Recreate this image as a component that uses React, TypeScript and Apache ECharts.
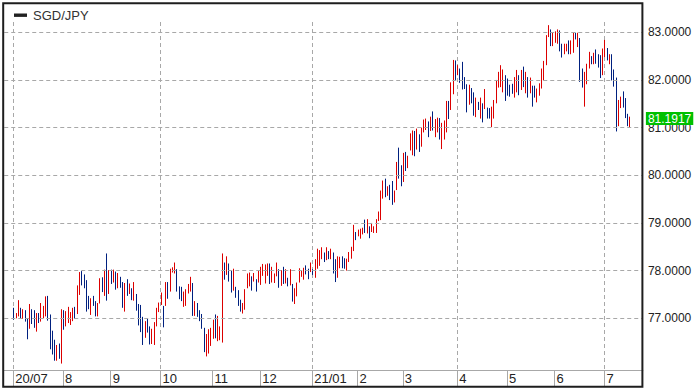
import React, { useEffect, useRef } from 'react';
import * as echarts from 'echarts';

const PAIR = 'SGD/JPY';
const LAST_PRICE = 81.1917;

// Daily high / low (one bar per weekday, 2020-07-01 .. 2021-07-16)
const highs = [
  77.22, 77.11, 77.38, 77.22, 77.19, 77.17, 76.99, 77.30, 77.19, 77.17,
  77.11, 77.11, 77.32, 77.26, 77.46, 77.47, 77.08, 76.74, 76.55, 76.44,
  76.47, 77.19, 77.17, 77.15, 77.24, 77.13, 77.22, 77.24, 77.69, 77.97,
  77.99, 77.92, 77.80, 77.47, 77.42, 77.47, 77.36, 77.32, 77.84, 77.86,
  78.02, 78.36, 78.01, 78.02, 78.02, 77.98, 77.95, 77.87, 77.76, 77.74,
  77.82, 77.73, 77.63, 77.76, 77.51, 77.30, 77.28, 77.03, 76.94, 77.00,
  76.83, 76.78, 76.92, 77.22, 77.33, 77.54, 77.26, 77.76, 77.76, 78.04,
  78.07, 78.17, 78.03, 77.67, 77.66, 77.56, 77.61, 77.72, 77.87, 77.74,
  77.36, 77.32, 77.17, 77.09, 76.80, 76.67, 76.77, 76.80, 76.97, 77.08,
  77.05, 76.83, 78.36, 78.17, 78.30, 78.15, 78.00, 78.04, 77.66, 77.59,
  77.39, 77.32, 77.61, 77.94, 77.96, 77.88, 77.95, 77.82, 78.00, 78.08,
  78.14, 78.13, 78.15, 78.15, 78.08, 77.94, 78.17, 78.03, 78.01, 78.08,
  78.03, 77.85, 78.03, 77.72, 77.63, 77.75, 78.05,
  78.01, 78.06, 78.11, 78.04, 78.17, 78.03, 78.24, 78.46, 78.43, 78.49,
  78.38, 78.49, 78.41, 78.46, 78.38, 78.24, 78.30, 78.29, 78.30, 78.26,
  78.25, 78.39, 78.50, 78.96, 78.81, 78.86, 78.88, 78.90, 79.07, 79.08,
  78.93, 79.00, 78.93, 79.08, 79.24,
  79.68, 79.89, 79.93, 79.77, 79.80, 79.88, 79.68, 80.28, 80.58, 80.21,
  80.47, 80.49, 80.41, 80.88, 80.94, 80.93, 80.98, 80.86, 81.00, 81.17,
  81.19, 81.13, 81.23, 81.34, 81.18, 81.21,
  81.20, 81.10, 81.15, 81.56, 81.56, 81.95, 82.42, 82.41, 82.31, 82.24,
  82.38, 82.06, 81.91, 81.90, 81.83, 81.74, 81.63, 81.54, 81.63, 81.51,
  81.81, 81.42, 81.41, 81.44, 81.58, 82.00, 82.17, 82.31, 82.22, 82.10,
  82.03, 81.90, 81.92, 82.06, 82.21, 82.10, 82.21, 82.28, 82.17, 82.06,
  82.05, 81.88, 81.88, 81.82, 81.93, 82.24, 82.40, 82.94, 83.15,
  83.06, 82.99, 83.02, 83.06, 83.04, 82.76, 82.76, 82.76, 82.83, 82.83,
  82.99, 82.99, 82.99, 82.88, 82.24, 82.17, 82.34, 82.59, 82.50, 82.57,
  82.64, 82.54, 82.52, 82.66, 82.84, 82.67, 82.54, 82.54, 82.22, 82.05,
  81.58, 81.65, 81.76, 81.62, 81.29, 81.23,
];

const lows = [
  76.97, 77.00, 77.04, 77.00, 76.99, 76.93, 76.56, 76.78, 76.88, 76.80,
  76.72, 76.90, 76.93, 77.00, 77.04, 76.95, 76.35, 76.24, 76.11, 76.11,
  76.15, 76.05, 76.76, 76.83, 76.90, 76.86, 76.94, 76.99, 77.09, 77.49,
  77.69, 77.63, 77.14, 77.19, 77.07, 77.26, 77.04, 77.04, 77.31, 77.55,
  77.47, 77.37, 77.51, 77.72, 77.75, 77.60, 77.63, 77.64, 77.22, 77.14,
  77.47, 77.51, 77.38, 77.37, 77.16, 76.85, 76.71, 76.44, 76.59, 76.70,
  76.45, 76.46, 76.44, 76.83, 77.13, 77.28, 76.81, 77.26, 77.41, 77.56,
  77.96, 77.94, 77.56, 77.40, 77.36, 77.24, 77.26, 77.52, 77.56, 77.05,
  77.05, 77.03, 76.94, 76.78, 76.29, 76.20, 76.26, 76.42, 76.57, 76.58,
  76.52, 76.54, 76.49, 77.81, 77.91, 77.77, 77.54, 77.58, 77.43, 77.26,
  77.14, 77.10, 77.18, 77.63, 77.67, 77.58, 77.77, 77.56, 77.75, 77.70,
  77.89, 77.73, 77.89, 77.72, 77.75, 77.74, 77.88, 77.64, 77.68, 77.72,
  77.73, 77.67, 77.69, 77.35, 77.30, 77.46, 77.75,
  77.87, 77.81, 77.92, 77.82, 77.97, 77.91, 77.85, 78.04, 78.10, 78.24,
  78.18, 78.22, 78.24, 78.24, 77.94, 77.76, 77.85, 78.05, 78.05, 78.04,
  78.00, 78.18, 78.25, 78.41, 78.64, 78.72, 78.67, 78.76, 78.79, 78.78,
  78.68, 78.81, 78.79, 78.79, 79.04,
  79.06, 79.51, 79.54, 79.57, 79.48, 79.38, 79.43, 79.69, 79.93, 79.77,
  79.86, 80.09, 80.15, 80.52, 80.42, 80.40, 80.54, 80.49, 80.60, 80.90,
  80.95, 80.80, 80.93, 80.94, 80.80, 80.90,
  80.75, 80.55, 80.75, 80.90, 81.18, 81.37, 81.70, 82.00, 82.10, 81.94,
  81.80, 81.81, 81.32, 81.48, 81.51, 81.25, 81.22, 81.37, 81.19, 81.11,
  81.39, 81.19, 81.19, 81.01, 81.19, 81.51, 81.84, 81.85, 81.74, 81.56,
  81.67, 81.65, 81.71, 81.63, 81.74, 81.68, 81.79, 81.85, 81.72, 81.63,
  81.72, 81.44, 81.63, 81.53, 81.67, 81.82, 81.99, 82.31, 82.90,
  82.71, 82.71, 82.78, 82.76, 82.60, 82.47, 82.54, 82.60, 82.54, 82.54,
  82.57, 82.85, 82.69, 81.96, 81.84, 81.44, 81.91, 82.24, 82.33, 82.33,
  82.34, 82.26, 82.04, 82.10, 82.48, 82.41, 82.33, 81.99, 81.86, 80.92,
  81.03, 81.41, 81.42, 81.20, 81.03, 81.01,
];

// R = up day (red), B = down day (blue)
const upDown =
  'BRRBRBBRBB' + 'RBRRRBBBBR' + 'BRBRRRRBRR' + 'BBBBRBBRRB' + 'RBRBRBRBBR' +
  'BRBRBBBBRB' + 'BRRRRRBRBR' + 'RRBBBRRRRB' + 'RBBBBRRRRB' + 'RRRBRBBRBB' +
  'BRRRRBRBRR' + 'RRRBRRRBRB' + 'RBRBRRR' +
  'RRBBRBRRRR' + 'BRBRBBRRBB' + 'RRRRBRRRBR' + 'BRRRR' +
  'RRBRBBRRBB' + 'RBRRRBRBRR' + 'RBRBRR' +
  'BRRRBRRBRB' + 'BBBRBBRBRB' + 'RBBRRRRRRB' + 'BBBRRBRBRB' + 'RBBRRRRRR' +
  'BRRRBBRRBR' + 'RBRBBRRRBR' + 'BBBRRBRBBB' + 'RRBBBR';

// Month tick labels and the bar index at which each month starts
const monthLabels = ['20/07', '8', '9', '10', '11', '12', '21/01', '2', '3', '4', '5', '6', '7'];
const monthStartBar = [0, 22, 43, 65, 88, 109, 132, 152, 172, 196, 218, 239, 261];
const gridMonthLabels = ['20/07', '10', '21/01', '4', '7'];

const yTicks = [77, 78, 79, 80, 81, 82, 83];
const Y_MIN = 75.915;
const Y_MAX = 83.216;
const LEAD = 4;
const TRAIL = 6;

const UP = '#dc0000';
const DOWN = '#00207f';
const GRID = '#a8a8a8';
const FONT = '"Liberation Sans", Arial, sans-serif';

export default function App() {
  const ref = useRef<HTMLDivElement>(null);

  useEffect(() => {
    if (!ref.current) return;
    const chart = echarts.init(ref.current, null, { renderer: 'svg' });
    const n = highs.length;
    const total = LEAD + n + TRAIL;
    const cats = Array.from({ length: total }, (_, i) => String(i));
    const labelAt = new Map<number, string>();
    monthStartBar.forEach((b, j) => labelAt.set(b + LEAD, monthLabels[j]));
    const quarterSet = new Set<number>();
    monthStartBar.forEach((b, j) => {
      if (gridMonthLabels.includes(monthLabels[j])) quarterSet.add(b + LEAD);
    });
    const data = highs.map((h, i) => [i + LEAD, h, lows[i], upDown[i] === 'R' ? 1 : 0]);

    const option: any = {
      animation: false,
      backgroundColor: '#ffffff',
      grid: {
        left: 4.24,
        right: 57.1,
        top: 22,
        bottom: 21,
        containLabel: false,
        outerBoundsMode: 'none',
      },
      xAxis: {
        type: 'category',
        data: cats,
        boundaryGap: false,
        axisLine: { show: true, lineStyle: { color: GRID, width: 1 } },
        axisTick: {
          show: true,
          interval: (i: number) => labelAt.has(i),
          length: 17,
          lineStyle: { color: GRID, width: 1 },
        },
        axisLabel: {
          show: true,
          interval: (i: number) => labelAt.has(i),
          formatter: (v: string) => labelAt.get(Number(v)) ?? '',
          align: 'left',
          verticalAlign: 'top',
          margin: 1,
          padding: [0, 0, 0, 2],
          fontSize: 13,
          lineHeight: 14,
          color: '#222',
          fontFamily: FONT,
        },
        splitLine: {
          show: true,
          interval: (i: number) => quarterSet.has(i),
          lineStyle: { type: [4, 3], color: GRID, width: 1 },
        },
      },
      yAxis: {
        type: 'value',
        position: 'right',
        min: Y_MIN,
        max: Y_MAX,
        splitNumber: 7,
        axisLine: { show: false },
        axisTick: { show: false },
        splitLine: { show: false },
        axisLabel: {
          customValues: yTicks,
          margin: 5,
          fontSize: 12,
          color: '#222',
          fontFamily: FONT,
          formatter: (v: number) =>
            yTicks.some((t) => Math.abs(t - v) < 1e-6) ? v.toFixed(4) : '',
        },
      },
      series: [
        {
          type: 'custom',
          data,
          encode: { x: 0, y: [1, 2] },
          renderItem: (_params: any, api: any) => {
            const top = api.coord([api.value(0), api.value(1)]);
            const bot = api.coord([api.value(0), api.value(2)]);
            const x = Math.round(top[0]) + 0.5;
            return {
              type: 'line',
              shape: { x1: x, y1: top[1], x2: x, y2: bot[1] },
              style: { stroke: api.value(3) ? UP : DOWN, lineWidth: 1 },
            };
          },
          markLine: {
            silent: true,
            symbol: ['none', 'none'],
            z: 10,
            label: { show: false },
            lineStyle: { type: [4, 3], color: GRID, width: 1 },
            data: [
              ...yTicks.map((v) => ({ yAxis: v })),
              { yAxis: Y_MAX },
              {
                yAxis: LAST_PRICE,
                lineStyle: { color: 'rgba(0,0,0,0)', width: 1, type: 'solid' },
                label: {
                  show: true,
                  position: 'end',
                  distance: 3,
                  formatter: () => LAST_PRICE.toFixed(4),
                  color: '#ffffff',
                  backgroundColor: '#00c000',
                  padding: [1, 2, 0, 2],
                  fontSize: 12,
                  lineHeight: 12,
                  fontFamily: FONT,
                },
              },
            ],
          },
        },
      ],
      graphic: [
        {
          type: 'rect',
          silent: true,
          z: 100,
          shape: { x: 3.2, y: 3.2, width: 639.2, height: 383.6 },
          style: { fill: 'none', stroke: '#1e1e1e', lineWidth: 2 },
        },
        {
          type: 'rect',
          silent: true,
          shape: { x: 14, y: 13.5, width: 13, height: 3.4 },
          style: { fill: '#222' },
        },
        {
          type: 'text',
          silent: true,
          x: 33,
          y: 15.5,
          style: {
            text: PAIR,
            fontSize: 13,
            fill: '#333',
            verticalAlign: 'middle',
            fontFamily: FONT,
          },
        },
      ],
    };

    chart.setOption(option);
    return () => chart.dispose();
  }, []);

  return (
    <div
      ref={ref}
      style={{ position: 'fixed', left: 0, top: 0, width: 700, height: 391, background: '#fff' }}
    />
  );
}
